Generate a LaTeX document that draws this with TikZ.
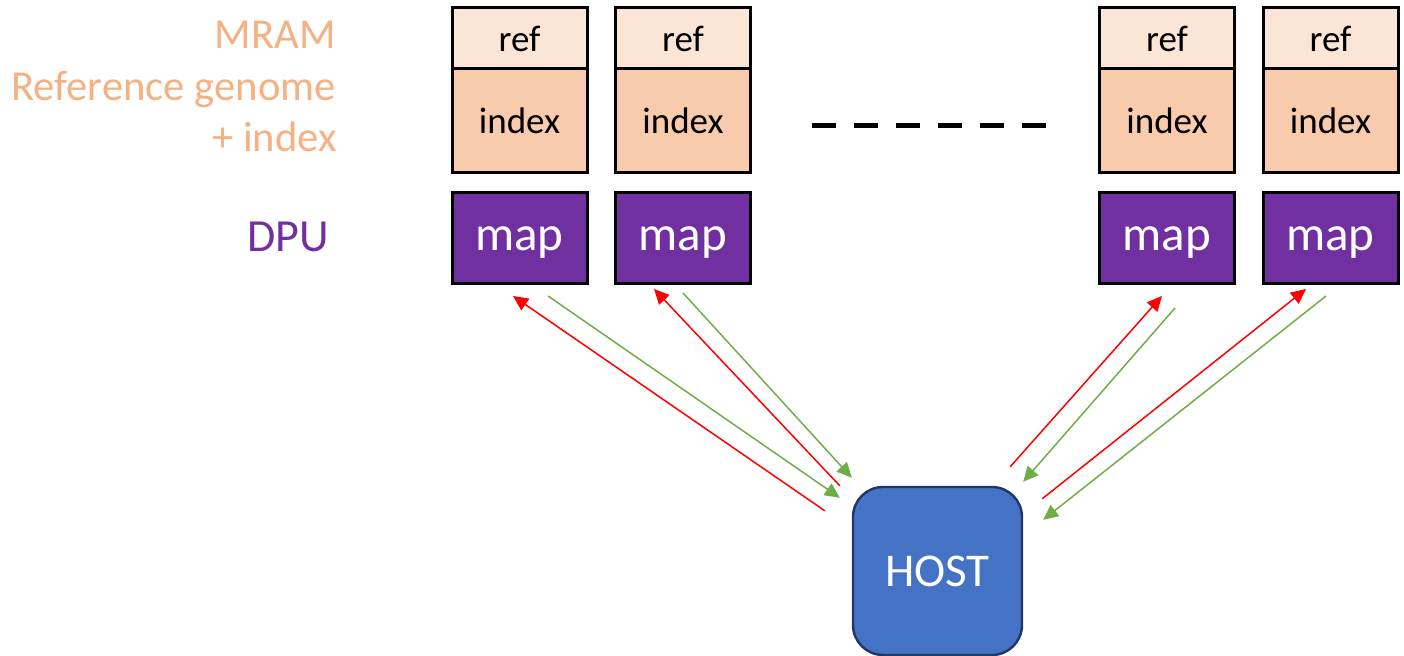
\documentclass[tikz,border=0pt]{standalone}
\usepackage{fontspec}
\setmainfont{Carlito}
\usepackage{tikz}
\usetikzlibrary{positioning,arrows.meta}
\definecolor{ref100}  {HTML}{FBE5D6}
\definecolor{ref300}  {HTML}{F8CBAD}
\definecolor{ref500}  {HTML}{F4B183}
\definecolor{dpu700}  {HTML}{7030A0}
\definecolor{host500} {HTML}{4472C4}
\definecolor{host900} {HTML}{1F3864}
\definecolor{send600} {HTML}{FF0000}
\definecolor{recv600} {HTML}{70AD47}
\tikzset{
  refbox/.style ={draw=black, line width=1.5pt, fill=ref100, outer sep=0pt,
                  minimum width=67.5pt, minimum height=30.5pt, inner sep=0pt,
                  text depth=0pt, font=\fontsize{18.5}{20}\selectfont},
  idxbox/.style ={draw=black, line width=1.5pt, fill=ref300, outer sep=0pt,
                  minimum width=67.5pt, minimum height=52pt, inner sep=0pt,
                  text depth=0pt, font=\fontsize{18.5}{20}\selectfont},
  mapbox/.style ={draw=black, line width=1.5pt, fill=dpu700, outer sep=0pt,
                  minimum width=67.5pt, minimum height=45.5pt, inner sep=0pt,
                  text depth=0pt, text=white, font=\fontsize{24.5}{26}\selectfont},
  hostbox/.style={draw=host900, line width=1.2pt, fill=host500,
                  rounded corners=15pt, minimum width=84.5pt,
                  minimum height=84pt, inner sep=0pt, text=white,
                  font=\fontsize{23.5}{26}\selectfont},
  lbl/.style    ={anchor=base east, inner sep=0pt, text=ref500,
                  font=\fontsize{21.3}{23}\selectfont},
  tohost/.style ={-{Triangle[length=7.5pt, width=7pt]}, draw=recv600,
                  fill=recv600, line width=0.75pt},
  todpu/.style  ={-{Triangle[length=7.5pt, width=7pt]}, draw=send600,
                  fill=send600, line width=0.75pt},
  dashline/.style={line width=2.5pt, dash pattern=on 12pt off 9pt}
}
\begin{document}
\begin{tikzpicture}[x=0.5pt, y=-0.5pt]
\useasboundingbox (0,0) rectangle (1404,656);

\node[lbl] (mram) at (336,49) {MRAM};
\node[lbl] (genome) at (336,101) {Reference genome};
\node[lbl] (plusidx) at (337,152) {+ index};
\node[lbl, text=dpu700, font=\fontsize{23}{25}\selectfont] (dpu) at (329,252) {DPU};

\node[refbox] (ref1) at (519.5,38.5) {ref};
\node[idxbox, below=0pt of ref1] (index1) {index};
\node[mapbox, below=10pt of index1] (map1) {map};

\node[refbox] (ref2) at (683,38.5) {ref};
\node[idxbox, below=0pt of ref2] (index2) {index};
\node[mapbox, below=10pt of index2] (map2) {map};

\node[refbox] (ref3) at (1167,38.5) {ref};
\node[idxbox, below=0pt of ref3] (index3) {index};
\node[mapbox, below=10pt of index3] (map3) {map};

\node[refbox] (ref4) at (1330.5,38.5) {ref};
\node[idxbox, below=0pt of ref4] (index4) {index};
\node[mapbox, below=10pt of index4] (map4) {map};

% the DPUs between the second and the third are left out
\draw[dashline] ([shift={(61,5)}]index2.east) -- ([shift={(-52,5)}]index3.west);

\node[hostbox] (host) at (937.5,571) {HOST};

\draw[todpu]  ([shift={(-27,25)}]host.north west) -- ([shift={(-6.5,12)}]map1.south);
\draw[tohost] ([shift={(28.5,12)}]map1.south) -- ([shift={(-12,12)}]host.north west);
\draw[todpu]  ([shift={(-12,0)}]host.north west) -- ([shift={(-29,5)}]map2.south);
\draw[tohost] ([shift={(0,9)}]map2.south) -- ([shift={(0,-8)}]host.north west);
\draw[todpu]  ([shift={(-13,-19)}]host.north east) -- ([shift={(-5,12)}]map3.south);
\draw[tohost] ([shift={(8,24)}]map3.south) -- ([shift={(0,-4)}]host.north east);
\draw[todpu]  ([shift={(19,13)}]host.north east) -- ([shift={(-24.5,5)}]map4.south);
\draw[tohost] ([shift={(-4.5,12)}]map4.south) -- ([shift={(20,34)}]host.north east);
\end{tikzpicture}
\end{document}
